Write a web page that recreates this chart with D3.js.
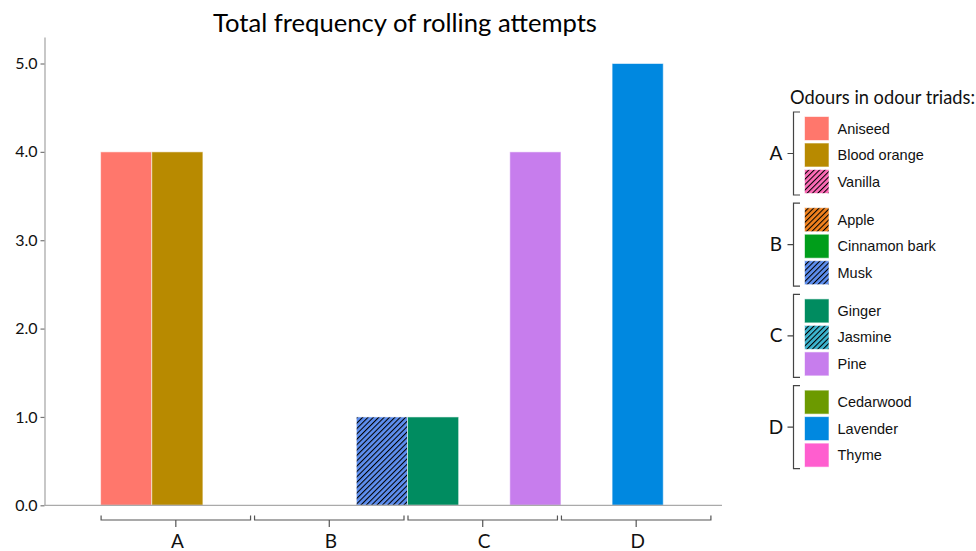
<!DOCTYPE html>
<html>
<head>
<meta charset="utf-8">
<script src="https://cdn.jsdelivr.net/npm/d3@7"></script>
<style>
  html, body { margin: 0; padding: 0; background: #fff; }
  svg { display: block; }
</style>
</head>
<body>
<svg id="chart" width="976" height="551"></svg>
<script>
// ---------------- data ----------------
const triads = ["A", "B", "C", "D"];
const odours = ["Aniseed", "Blood orange", "Vanilla",
                "Apple", "Cinnamon bark", "Musk",
                "Ginger", "Jasmine", "Pine",
                "Cedarwood", "Lavender", "Thyme"];
const odourTriad = ["A", "A", "A", "B", "B", "B", "C", "C", "C", "D", "D", "D"];
const counts = [4, 4, 0, 0, 0, 1, 1, 0, 4, 0, 5, 0];
const fills = ["#FF776C", "#B88A00", "#FF6CB8",
               "#F2821E", "#009E1A", "#5E8FF0",
               "#008C60", "#3DB6D0", "#C77DED",
               "#6C9A00", "#0088E0", "#FF5ECF"];
const hatched = [false, false, true, true, false, true, false, true, false, false, false, false];
const yTicks = [0, 1, 2, 3, 4, 5];
const titleText = "Total frequency of rolling attempts";
const legendTitle = "Odours in odour triads:";

// ---------------- setup ----------------
const svg = d3.select("#chart");
const defs = svg.append("defs");
const rows = odours.map((o, i) => ({
  odour: o, triad: odourTriad[i], count: counts[i], fill: fills[i],
  hatch: hatched[i], idx: odours.filter((_, j) => odourTriad[j] === odourTriad[i]).indexOf(o), i
}));

const hp = 3.8;
rows.forEach(r => {
  if (r.hatch) {
    const p = defs.append("pattern")
      .attr("id", "hatch" + r.i)
      .attr("patternUnits", "userSpaceOnUse")
      .attr("width", hp).attr("height", hp)
      .attr("patternTransform", "rotate(45)");
    p.append("rect").attr("width", hp).attr("height", hp).attr("fill", r.fill);
    p.append("line").attr("x1", 0).attr("y1", 0).attr("x2", 0).attr("y2", hp)
      .attr("stroke", "#000").attr("stroke-width", 2.1);
  }
});
const paint = r => r.hatch ? `url(#hatch${r.i})` : r.fill;

const fontCal = "Lato, 'Open Sans', sans-serif";
const fontArial = "'Liberation Sans', Arial, sans-serif";

function fitWidth(sel, target) {
  const len = sel.node().getComputedTextLength();
  const fs = parseFloat(sel.attr("font-size"));
  sel.attr("font-size", fs * target / len);
}

// ---------------- scales ----------------
const x = d3.scaleBand().domain(triads).range([100.6, 714.4]).padding(0);
const xi = d3.scaleBand().domain([0, 1, 2]).range([0, x.bandwidth()]).padding(0);
const y = d3.scaleLinear().domain([0, 5.3]).range([505.3, 37]);

// ---------------- title ----------------
const t = svg.append("text").text(titleText)
  .attr("x", 405).attr("y", 31.5).attr("text-anchor", "middle")
  .attr("font-family", fontCal).attr("font-size", 26).attr("fill", "#000");
fitWidth(t, 384);

// ---------------- bars ----------------
svg.append("g").selectAll("rect").data(rows.filter(r => r.count > 0)).join("rect")
  .attr("x", r => x(r.triad) + xi(r.idx))
  .attr("width", xi.bandwidth())
  .attr("y", r => y(r.count))
  .attr("height", r => y(0) - y(r.count))
  .attr("fill", paint)
  .attr("stroke", "rgba(255,255,255,0.55)")
  .attr("stroke-width", 1);

// ---------------- y axis ----------------
const yAxis = svg.append("g").attr("transform", "translate(44.5,0)")
  .call(d3.axisLeft(y).tickValues(yTicks).tickFormat(d3.format(".1f")).tickSize(4).tickPadding(3).tickSizeOuter(0));
yAxis.select(".domain").attr("stroke", "#aaa").attr("stroke-width", 1.3);
yAxis.selectAll(".tick line").attr("stroke", "#777").attr("stroke-width", 1.2);
yAxis.selectAll(".tick text").attr("font-family", fontCal).attr("font-size", 16).attr("fill", "#111");

// ---------------- x axis line ----------------
svg.append("line").attr("x1", 44).attr("x2", 722).attr("y1", y(0)).attr("y2", y(0))
  .attr("stroke", "#aaa").attr("stroke-width", 1.3);

// ---------------- group brackets ----------------
const br = svg.append("g");
triads.forEach(tr => {
  const x0 = x(tr) + 0.5, x1 = x(tr) + x.bandwidth() - 3.5, cx = (x0 + x1) / 2;
  br.append("path")
    .attr("d", `M${x0},515.5 V520 H${x1} V515.5 M${cx},520 V527`)
    .attr("fill", "none").attr("stroke", "#555").attr("stroke-width", 1.2);
  br.append("text").text(tr).attr("x", x(tr) + x.bandwidth() / 2).attr("y", 548)
    .attr("text-anchor", "middle").attr("font-family", fontCal).attr("font-size", 19).attr("fill", "#111");
});

// ---------------- legend ----------------
const lg = svg.append("g");
const lt = lg.append("text").text(legendTitle).attr("x", 790).attr("y", 103.5)
  .attr("font-family", fontCal).attr("font-size", 17).attr("fill", "#111");
fitWidth(lt, 185);

const gy = d3.scaleBand().domain(triads).range([116.5, 116.5 + 4 * 91.2]).padding(0);
const iy = d3.scaleBand().domain([0, 1, 2]).range([0, 3 * 26.5]).padding(0);
const sw = 24.5, sh = 24;

triads.forEach(tr => {
  const items = rows.filter(r => r.triad === tr);
  const top = gy(tr) - 4.5, bot = gy(tr) + iy(2) + sh + 1.5, mid = (top + bot) / 2;
  lg.append("path")
    .attr("d", `M800,${top} H793.5 V${bot} H800 M793.5,${mid} H787.5`)
    .attr("fill", "none").attr("stroke", "#444").attr("stroke-width", 1.2);
  lg.append("text").text(tr).attr("x", 776).attr("y", mid + 6.5).attr("text-anchor", "middle")
    .attr("font-family", fontCal).attr("font-size", 19).attr("fill", "#111");
  items.forEach(r => {
    const yy = gy(tr) + iy(r.idx);
    lg.append("rect").attr("x", 804.5).attr("y", yy).attr("width", sw).attr("height", sh)
      .attr("fill", paint(r)).attr("stroke", "rgba(255,255,255,0.6)").attr("stroke-width", 1);
    lg.append("text").text(r.odour).attr("x", 837.5).attr("y", yy + sh / 2 + 5)
      .attr("font-family", fontArial).attr("font-size", 14.5).attr("fill", "#111");
  });
});
</script>
</body>
</html>
